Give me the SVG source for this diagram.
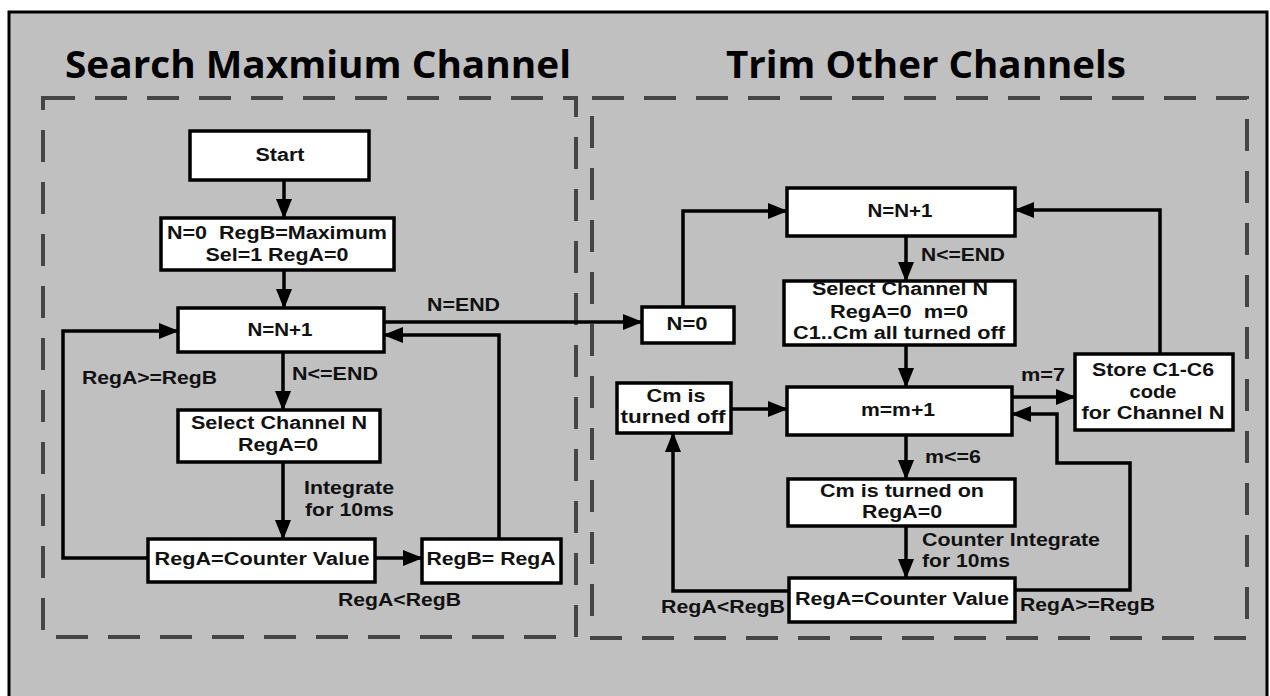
<svg xmlns="http://www.w3.org/2000/svg" width="1270" height="696" viewBox="0 0 1270 696">
<defs>
<marker id="ah" markerUnits="userSpaceOnUse" markerWidth="20" markerHeight="16" refX="19" refY="8" orient="auto">
<path d="M0,0 L20,8 L0,16 z" fill="#000"/>
</marker>
<style>
.bx{fill:#fff;stroke:#000;stroke-width:3.5}
.t{font-family:"Liberation Sans",Arial,sans-serif;font-size:18px;font-weight:bold;fill:#111;white-space:pre}
.c{text-anchor:middle}
.ttl{font-family:"Open Sans","Noto Sans",sans-serif;font-size:38px;font-weight:bold;fill:#000}
.cn{fill:none;stroke:#000;stroke-width:3.5}
.ar{marker-end:url(#ah)}
.dash{fill:none;stroke:#454545;stroke-width:4;stroke-dasharray:32 20}
</style>
</defs>
<rect x="0" y="0" width="1270" height="696" fill="#fff"/>
<rect x="9" y="12" width="1258" height="700" fill="#c0c0c0" stroke="#000" stroke-width="3"/>
<text class="ttl" x="65" y="78" textLength="506" lengthAdjust="spacingAndGlyphs">Search Maxmium Channel</text>
<text class="ttl" x="726" y="78" textLength="400" lengthAdjust="spacingAndGlyphs">Trim Other Channels</text>
<rect class="dash" x="43" y="98" width="533" height="539"/>
<rect class="dash" x="592" y="98" width="655" height="540"/>

<g id="connectors">
<path class="cn ar" d="M284,180 V218"/>
<path class="cn ar" d="M284,270 V308"/>
<path class="cn ar" d="M283,352 V410"/>
<path class="cn ar" d="M283,462 V539"/>
<path class="cn ar" d="M375,558 H422"/>
<path class="cn ar" d="M499,539 V335 H384"/>
<path class="cn ar" d="M148,558 H63 V331 H178"/>
<path class="cn ar" d="M384,322 H642"/>
<path class="cn ar" d="M683,307 V211 H787"/>
<path class="cn ar" d="M1160,354 V210 H1015"/>
<path class="cn ar" d="M906,236 V281"/>
<path class="cn ar" d="M906,345 V387"/>
<path class="cn ar" d="M731,409 H787"/>
<path class="cn ar" d="M1012,397 H1075"/>
<path class="cn ar" d="M906,435 V479"/>
<path class="cn ar" d="M906,526 V578"/>
<path class="cn ar" d="M789,591 H673 V433"/>
<path class="cn ar" d="M1015,590 H1130 V463 H1057 V414 H1012"/>
<text class="t" x="427" y="311" textLength="73" lengthAdjust="spacingAndGlyphs">N=END</text>
<text class="t" x="82" y="384" textLength="135" lengthAdjust="spacingAndGlyphs">RegA&gt;=RegB</text>
<text class="t" x="292" y="380" textLength="86" lengthAdjust="spacingAndGlyphs">N&lt;=END</text>
<text class="t" x="304" y="494" textLength="90" lengthAdjust="spacingAndGlyphs">Integrate</text>
<text class="t" x="305" y="516" textLength="89" lengthAdjust="spacingAndGlyphs">for 10ms</text>
<text class="t" x="338" y="606" textLength="123" lengthAdjust="spacingAndGlyphs">RegA&lt;RegB</text>
<text class="t" x="921" y="261" textLength="84" lengthAdjust="spacingAndGlyphs">N&lt;=END</text>
<text class="t" x="1021" y="381" textLength="44" lengthAdjust="spacingAndGlyphs">m=7</text>
<text class="t" x="925" y="463" textLength="56" lengthAdjust="spacingAndGlyphs">m&lt;=6</text>
<text class="t" x="922" y="546" textLength="178" lengthAdjust="spacingAndGlyphs">Counter Integrate</text>
<text class="t" x="922" y="567" textLength="88" lengthAdjust="spacingAndGlyphs">for 10ms</text>
<text class="t" x="661" y="613" textLength="124" lengthAdjust="spacingAndGlyphs">RegA&lt;RegB</text>
<text class="t" x="1020" y="611" textLength="135" lengthAdjust="spacingAndGlyphs">RegA&gt;=RegB</text>
</g>

<g id="start">
<rect class="bx" x="190" y="131" width="179" height="49"/>
<text class="t c" x="280" y="161" textLength="49" lengthAdjust="spacingAndGlyphs">Start</text>
</g>
<g id="init">
<rect class="bx" x="161" y="218" width="233" height="52"/>
<text class="t c" x="277" y="239" textLength="220" lengthAdjust="spacingAndGlyphs" xml:space="preserve">N=0  RegB=Maximum</text>
<text class="t c" x="277" y="261" textLength="143" lengthAdjust="spacingAndGlyphs">Sel=1 RegA=0</text>
</g>
<g id="incN-left">
<rect class="bx" x="178" y="308" width="206" height="44"/>
<text class="t c" x="280" y="336" textLength="65" lengthAdjust="spacingAndGlyphs">N=N+1</text>
</g>
<g id="select-left">
<rect class="bx" x="178" y="410" width="202" height="52"/>
<text class="t c" x="279" y="429" textLength="176" lengthAdjust="spacingAndGlyphs">Select Channel N</text>
<text class="t c" x="278" y="451" textLength="80" lengthAdjust="spacingAndGlyphs">RegA=0</text>
</g>
<g id="counter-left">
<rect class="bx" x="148" y="539" width="227" height="43"/>
<text class="t c" x="262" y="565" textLength="215" lengthAdjust="spacingAndGlyphs">RegA=Counter Value</text>
</g>
<g id="regb">
<rect class="bx" x="422" y="539" width="139" height="44"/>
<text class="t c" x="491" y="565" textLength="129" lengthAdjust="spacingAndGlyphs">RegB= RegA</text>
</g>

<g id="n0">
<rect class="bx" x="642" y="307" width="92" height="36"/>
<text class="t c" x="687" y="330" textLength="41" lengthAdjust="spacingAndGlyphs">N=0</text>
</g>
<g id="incN-right">
<rect class="bx" x="787" y="188" width="228" height="48"/>
<text class="t c" x="900" y="217" textLength="65" lengthAdjust="spacingAndGlyphs">N=N+1</text>
</g>
<g id="select-right">
<rect class="bx" x="784" y="281" width="231" height="64"/>
<text class="t c" x="900" y="295" textLength="176" lengthAdjust="spacingAndGlyphs">Select Channel N</text>
<text class="t c" x="899" y="318" textLength="138" lengthAdjust="spacingAndGlyphs" xml:space="preserve">RegA=0  m=0</text>
<text class="t c" x="899" y="339" textLength="212" lengthAdjust="spacingAndGlyphs">C1..Cm all turned off</text>
</g>
<g id="incm">
<rect class="bx" x="787" y="387" width="225" height="48"/>
<text class="t c" x="898" y="416" textLength="74" lengthAdjust="spacingAndGlyphs">m=m+1</text>
</g>
<g id="cm-off">
<rect class="bx" x="617" y="383" width="114" height="50"/>
<text class="t c" x="676" y="402" textLength="59" lengthAdjust="spacingAndGlyphs">Cm is</text>
<text class="t c" x="673" y="423" textLength="105" lengthAdjust="spacingAndGlyphs">turned off</text>
</g>
<g id="store">
<rect class="bx" x="1075" y="354" width="158" height="76"/>
<text class="t c" x="1153" y="376" textLength="122" lengthAdjust="spacingAndGlyphs">Store C1-C6</text>
<text class="t c" x="1153" y="398" textLength="47" lengthAdjust="spacingAndGlyphs">code</text>
<text class="t c" x="1153" y="419" textLength="143" lengthAdjust="spacingAndGlyphs">for Channel N</text>
</g>
<g id="cm-on">
<rect class="bx" x="788" y="479" width="227" height="47"/>
<text class="t c" x="902" y="497" textLength="164" lengthAdjust="spacingAndGlyphs">Cm is turned on</text>
<text class="t c" x="902" y="518" textLength="80" lengthAdjust="spacingAndGlyphs">RegA=0</text>
</g>
<g id="counter-right">
<rect class="bx" x="789" y="578" width="226" height="44"/>
<text class="t c" x="902" y="605" textLength="214" lengthAdjust="spacingAndGlyphs">RegA=Counter Value</text>
</g>
</svg>
